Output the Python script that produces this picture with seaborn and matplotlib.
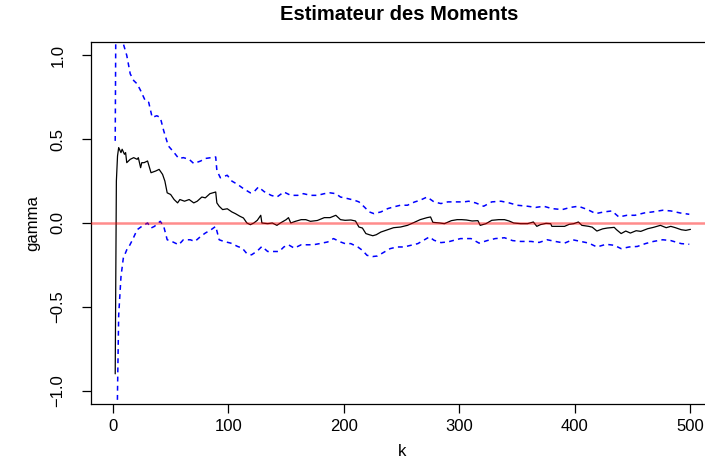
import matplotlib
matplotlib.use("Agg")
import matplotlib.pyplot as plt
import seaborn as sns
import numpy as np
import pandas as pd

# ---- data ----
k_est = [2, 3, 4, 5, 7, 8, 10, 11, 12, 15, 18, 21, 22, 24, 25, 27, 30, 33, 37, 40,
         43, 45, 47, 50, 53, 56, 58, 62, 66, 70, 73, 77, 80, 84, 89, 90, 92, 95, 99,
         103, 106, 110, 113, 116, 119, 122, 125, 128, 129, 134, 138, 142, 145, 150,
         152, 154, 158, 163, 167, 171, 177, 183, 188, 193, 197, 201, 206, 210, 213,
         216, 219, 222, 225, 228, 232, 238, 243, 249, 255, 261, 266, 272, 275, 277,
         283, 287, 293, 298, 302, 306, 311, 316, 318, 323, 328, 334, 339, 343, 347,
         353, 359, 364, 367, 370, 375, 379, 380, 385, 391, 395, 399, 403, 406, 412,
         415, 419, 424, 428, 434, 436, 440, 444, 448, 453, 457, 463, 468, 474, 479,
         483, 487, 492, 496, 500]
gamma_est = [-0.90, 0.25, 0.40, 0.45, 0.42, 0.44, 0.41, 0.42, 0.36, 0.38, 0.39, 0.38,
             0.39, 0.33, 0.36, 0.36, 0.37, 0.30, 0.31, 0.32, 0.29, 0.25, 0.18, 0.17,
             0.14, 0.12, 0.14, 0.13, 0.14, 0.12, 0.13, 0.155, 0.15, 0.175, 0.185, 0.12,
             0.10, 0.08, 0.085, 0.066, 0.056, 0.04, 0.03, 0.0, -0.01, 0.0, 0.016, 0.046,
             0.0, -0.004, 0.0, -0.014, 0.0, 0.02, 0.032, 0.0, 0.01, 0.02, 0.02, 0.01,
             0.015, 0.032, 0.032, 0.046, 0.02, 0.016, 0.018, 0.012, -0.024, -0.03,
             -0.063, -0.07, -0.076, -0.07, -0.054, -0.04, -0.028, -0.024, -0.014, 0.004,
             0.02, 0.032, 0.036, 0.004, 0.0, -0.004, 0.014, 0.02, 0.02, 0.018, 0.012,
             0.014, -0.014, -0.004, 0.016, 0.02, 0.02, 0.012, 0.0, -0.004, -0.004, 0.006,
             -0.02, -0.01, -0.002, -0.004, -0.02, -0.02, -0.02, -0.008, -0.004, 0.006,
             -0.014, -0.02, -0.025, -0.048, -0.035, -0.03, -0.026, -0.04, -0.063, -0.048,
             -0.06, -0.046, -0.05, -0.034, -0.026, -0.014, -0.028, -0.02, -0.028, -0.04,
             -0.044, -0.038]

k_up = [2, 3, 4, 6, 9, 12, 15, 18, 21, 24, 28, 31, 34, 38, 41, 44, 48, 53, 57, 61, 66,
        70, 76, 80, 85, 89, 90, 93, 99, 103, 108, 113, 119, 122, 126, 131, 137, 142,
        148, 154, 160, 165, 171, 177, 183, 188, 193, 197, 203, 209, 213, 217, 222, 226,
        232, 238, 243, 249, 255, 261, 266, 272, 278, 284, 290, 297, 304, 308, 314, 321,
        328, 336, 343, 350, 359, 366, 373, 380, 389, 396, 403, 411, 418, 425, 432, 438,
        445, 452, 460, 467, 476, 483, 491, 499]
gamma_up = [0.49, 1.8, 1.6, 1.3, 1.07, 1.00, 0.89, 0.85, 0.83, 0.79, 0.73, 0.72, 0.63,
            0.64, 0.63, 0.55, 0.46, 0.42, 0.385, 0.39, 0.38, 0.355, 0.37, 0.385, 0.39,
            0.394, 0.314, 0.27, 0.285, 0.25, 0.23, 0.205, 0.18, 0.185, 0.215, 0.187,
            0.165, 0.155, 0.185, 0.165, 0.165, 0.175, 0.165, 0.165, 0.175, 0.18, 0.175,
            0.155, 0.146, 0.136, 0.126, 0.10, 0.066, 0.056, 0.066, 0.086, 0.096, 0.106,
            0.106, 0.125, 0.136, 0.155, 0.126, 0.116, 0.126, 0.126, 0.126, 0.13, 0.12,
            0.10, 0.126, 0.13, 0.12, 0.106, 0.10, 0.093, 0.10, 0.086, 0.08, 0.093, 0.10,
            0.08, 0.056, 0.066, 0.072, 0.036, 0.046, 0.046, 0.06, 0.066, 0.076, 0.072,
            0.06, 0.052]

k_lo = [2, 3, 4, 5, 7, 9, 12, 14, 17, 21, 25, 30, 33, 36, 41, 44, 47, 51, 57, 61, 67,
        71, 76, 80, 85, 89, 92, 96, 102, 108, 112, 116, 120, 125, 129, 134, 140, 144,
        148, 152, 157, 163, 170, 175, 179, 186, 191, 197, 201, 206, 212, 216, 220, 225,
        229, 235, 240, 246, 252, 258, 264, 269, 274, 278, 284, 290, 297, 301, 310, 317,
        324, 331, 339, 346, 353, 362, 369, 376, 383, 391, 398, 405, 412, 419, 427, 434,
        440, 447, 454, 461, 468, 476, 483, 492, 499]
gamma_lo = [-2.29, -1.6, -1.0, -0.55, -0.32, -0.21, -0.16, -0.14, -0.10, -0.04, -0.02,
            0.0, -0.03, -0.02, 0.01, -0.02, -0.10, -0.11, -0.13, -0.10, -0.10, -0.11,
            -0.08, -0.06, -0.04, -0.02, -0.10, -0.11, -0.12, -0.14, -0.15, -0.183,
            -0.19, -0.167, -0.14, -0.17, -0.17, -0.17, -0.143, -0.13, -0.15, -0.13,
            -0.13, -0.128, -0.123, -0.113, -0.093, -0.113, -0.123, -0.123, -0.143,
            -0.163, -0.193, -0.20, -0.197, -0.173, -0.153, -0.143, -0.143, -0.133,
            -0.123, -0.103, -0.083, -0.103, -0.117, -0.113, -0.10, -0.093, -0.093,
            -0.12, -0.105, -0.093, -0.088, -0.105, -0.11, -0.11, -0.116, -0.10, -0.11,
            -0.12, -0.10, -0.11, -0.12, -0.143, -0.127, -0.133, -0.153, -0.143, -0.14,
            -0.123, -0.11, -0.10, -0.105, -0.123, -0.127]

x_ticks = [0, 100, 200, 300, 400, 500]
y_ticks = [-1.0, -0.5, 0.0, 0.5, 1.0]
y_tick_labels = ["\u22121.0", "\u22120.5", "0.0", "0.5", "1.0"]
title = "Estimateur des Moments"
xlabel = "k"
ylabel = "gamma"

# ---- styling ----
sns.set_theme(style="white")
plt.rcParams['font.family'] = ['Liberation Sans', 'DejaVu Sans']

fig = plt.figure(figsize=(7.05, 4.63), dpi=100)
W, H = 705.0, 463.0
left, right, top, bottom = 91.0, 713.5, 42.0, 404.0
ax = fig.add_axes([left / W, (H - bottom) / H, (right - left) / W, (bottom - top) / H])

df_est = pd.DataFrame({"k": k_est, "gamma": gamma_est})
df_up = pd.DataFrame({"k": k_up, "gamma": gamma_up})
df_lo = pd.DataFrame({"k": k_lo, "gamma": gamma_lo})

sns.lineplot(data=df_est, x="k", y="gamma", ax=ax, color="black", lw=0.9,
             estimator=None, sort=False)
for d in (df_up, df_lo):
    sns.lineplot(data=d, x="k", y="gamma", ax=ax, color="#0000ff", lw=1.1,
                 estimator=None, sort=False, dashes=False, linestyle=(0, (3.2, 2.8)))
ax.axhline(0, color=(1, 0, 0), alpha=0.45, lw=1.8, zorder=5)

ax.set_xlim(-18.96, 519.96)
ax.set_ylim(-1.08, 1.08)
ax.set_xticks(x_ticks)
ax.set_xticklabels([str(t) for t in x_ticks])
ax.set_yticks(y_ticks)
ax.set_yticklabels(y_tick_labels, rotation=90, va="center")

for s in ax.spines.values():
    s.set_color("black")
    s.set_linewidth(0.9)

ax.tick_params(axis="both", bottom=True, left=True, direction="out", length=6.5,
               width=0.9, color="black", labelsize=12, labelcolor="black")
ax.tick_params(axis="x", pad=4)
ax.tick_params(axis="y", pad=12)

ax.set_xlabel(xlabel, fontsize=12, color="black")
ax.set_ylabel(ylabel, fontsize=12, color="black")
ax.xaxis.set_label_coords(0.5, (bottom - 452) / (bottom - top))
ax.xaxis.label.set_va("center")
ax.yaxis.set_label_coords((33 - left) / (right - left), 0.5)
ax.yaxis.label.set_va("center")
fig.text(399 / W, 1 - 14 / H, title, fontsize=14.5, fontweight="bold",
         color="black", ha="center", va="center")
ax.grid(False)

fig.savefig("out.png", dpi=100)
